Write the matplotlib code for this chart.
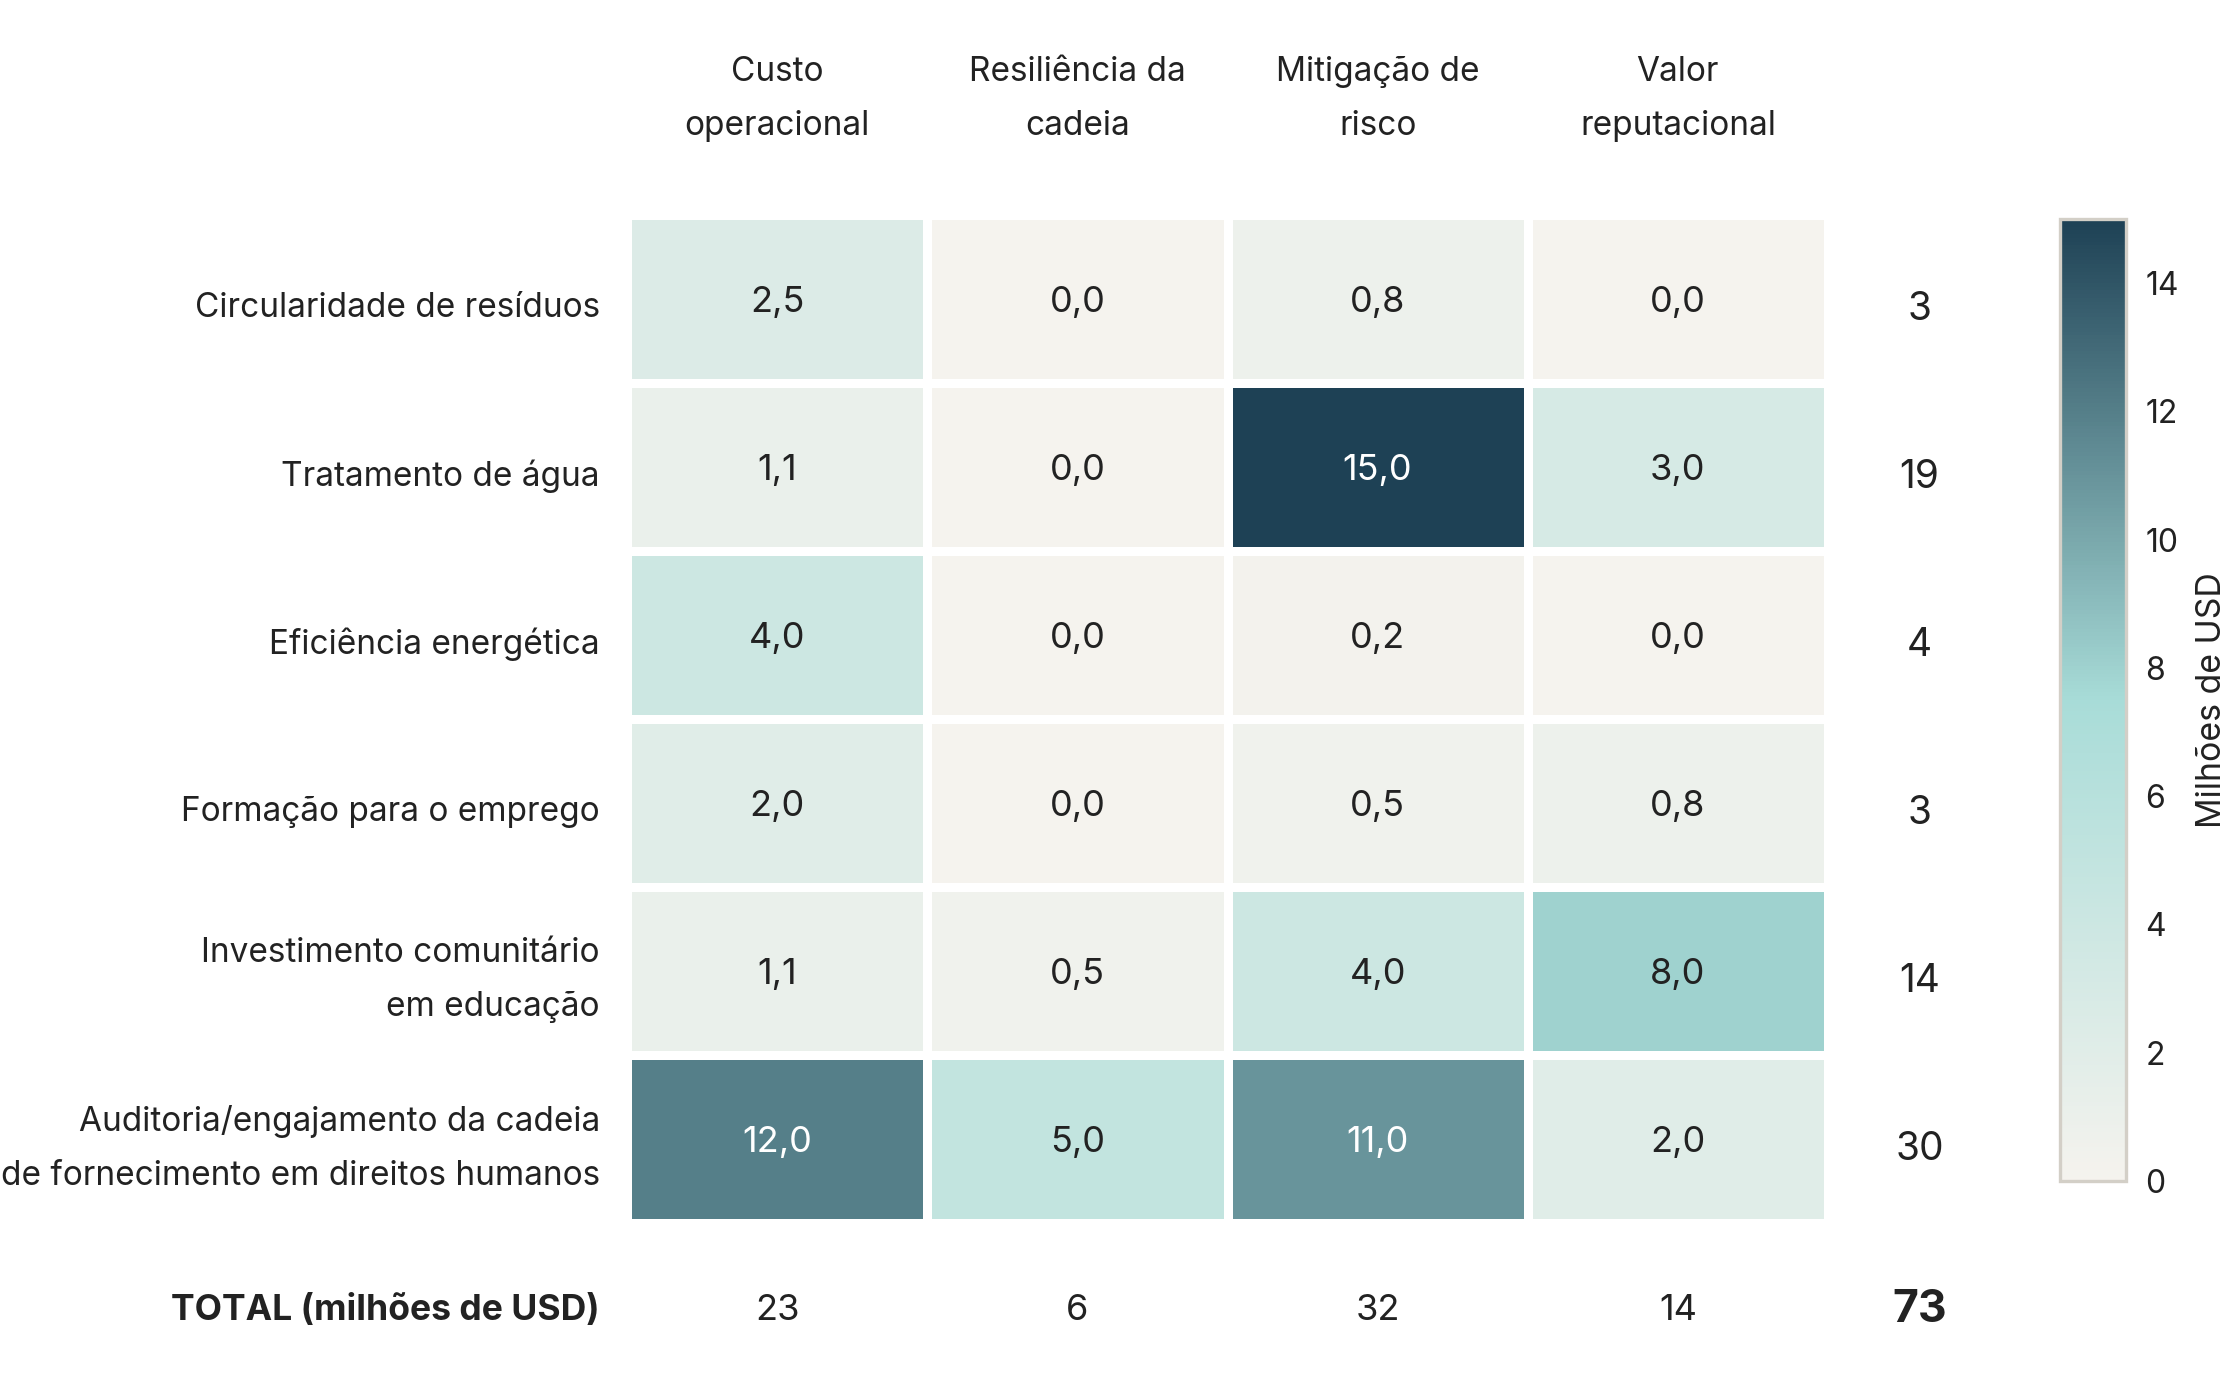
import matplotlib
matplotlib.use("Agg")
import matplotlib.pyplot as plt
import numpy as np
from matplotlib.colors import LinearSegmentedColormap

plt.rcParams["font.family"] = ["Inter", "DejaVu Sans"]

categories = [
    "Circularidade de resíduos",
    "Tratamento de água",
    "Eficiência energética",
    "Formação para o emprego",
    "Investimento comunitário\nem educação",
    "Auditoria/engajamento da cadeia\nde fornecimento em direitos humanos",
]
benefits = ["Custo\noperacional", "Resiliência da\ncadeia", "Mitigação de\nrisco", "Valor\nreputacional"]

custo = [2.5, 1.1, 4.0, 2.0, 1.1, 12.0]
resiliencia = [0.0, 0.0, 0.0, 0.0, 0.5, 5.0]
mitigacao = [0.8, 15.0, 0.2, 0.5, 4.0, 11.0]
reputacao = [0.0, 3.0, 0.0, 0.8, 8.0, 2.0]

values = np.array([custo, resiliencia, mitigacao, reputacao]).T
row_totals = np.round(values.sum(axis=1))
col_totals = values.sum(axis=0)
grand_total = row_totals.sum()

cmap = LinearSegmentedColormap.from_list(
    "teal", ["#f5f3ee", "#a8dcd8", "#1e4155"], N=256
)
vmin, vmax = 0, 15

fig = plt.figure(figsize=(11.2, 7.0), dpi=200)
# heatmap area, slightly enlarged so the white cell borders trim to the reference edges
ax = fig.add_axes([627 / 2240, 1 - 1223 / 1400, 1201 / 2240, 1008 / 1400])

nrows, ncols = values.shape
mesh = ax.pcolormesh(values, cmap=cmap, vmin=vmin, vmax=vmax,
                     edgecolors="white", linewidth=2.6)
ax.set_xlim(0, ncols)
ax.set_ylim(nrows, 0)
for s in ax.spines.values():
    s.set_visible(False)
ax.set_xticks([])
ax.set_yticks([])

txt = "#222222"
lab_size = 12.0
for i in range(nrows):
    for j in range(ncols):
        v = values[i, j]
        color = "white" if v >= 10 else txt
        ax.text(j + 0.5, i + 0.52, f"{v:.1f}".replace(".", ","),
                ha="center", va="center", fontsize=13, color=color)
    ax.text(-0.09, i + 0.555, categories[i], ha="right", va="center",
            fontsize=lab_size, color=txt, linespacing=1.87, clip_on=False)
    ax.text(4.305, i + 0.56, f"{row_totals[i]:.0f}", ha="center", va="center",
            fontsize=14, color=txt, clip_on=False)

for j in range(ncols):
    ax.text(j + 0.5, -0.69, benefits[j], ha="center", va="center",
            fontsize=lab_size, color=txt, linespacing=1.87, clip_on=False)
    ax.text(j + 0.5, 6.52, f"{col_totals[j]:.0f}", ha="center", va="center",
            fontsize=13, color=txt, clip_on=False)

ax.text(-0.09, 6.52, "TOTAL (milhões de USD)", ha="right", va="center",
        fontsize=12.8, fontweight="bold", color=txt, clip_on=False)
ax.text(4.305, 6.52, f"{grand_total:.0f}", ha="center", va="center",
        fontsize=16, fontweight="bold", color=txt, clip_on=False)

cax = fig.add_axes([2060 / 2240, 1 - 1181 / 1400, 66 / 2240, 962 / 1400])
cbar = fig.colorbar(mesh, cax=cax)
cbar.outline.set_edgecolor("#d3cfc7")
cbar.outline.set_linewidth(1.2)
cbar.set_ticks([0, 2, 4, 6, 8, 10, 12, 14])
cbar.ax.tick_params(length=0, pad=7, labelsize=11.5, labelcolor=txt)
cbar.set_label("Milhões de USD", fontsize=12.2, color=txt, labelpad=6)

fig.savefig("out.png")
plt.close(fig)
